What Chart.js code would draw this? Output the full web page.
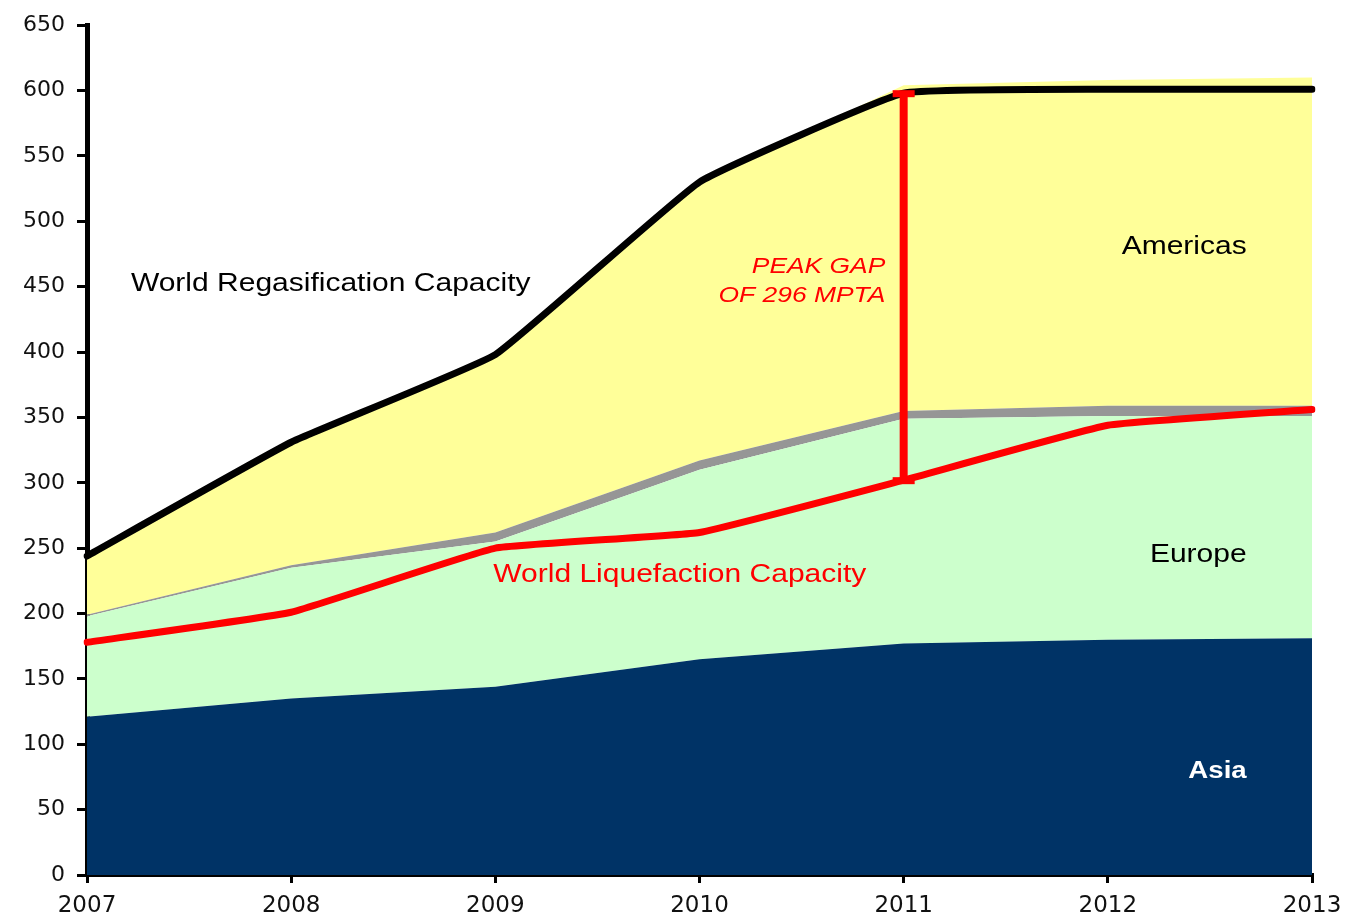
<!DOCTYPE html>
<html>
<head>
<meta charset="utf-8">
<title>World LNG regasification vs liquefaction capacity</title>
<script src="https://cdn.jsdelivr.net/npm/chart.js@4.4.1/dist/chart.umd.min.js"></script>
<style>
  html, body { margin: 0; padding: 0; background: #fff; }
  #wrap { width: 1345px; height: 920px; position: relative; }
</style>
</head>
<body>
<div id="wrap"><canvas id="lngChart"></canvas></div>
<script>
// values (MTPA)
const years = ['2007', '2008', '2009', '2010', '2011', '2012', '2013'];
const asia = [121, 135, 144, 165, 177, 180, 181];
const europe = [77, 100, 111, 145, 172, 171, 170];
const middleEast = [1, 2, 7, 7, 6, 8, 8];
const americas = [45, 94, 136, 213, 249, 249, 251];
const regasification = [244, 331, 398, 530, 598, 601, 601];
const liquefaction = [178, 201, 250, 262, 302, 344, 356];
const yMin = 0, yMax = 650, yStep = 50;
const peakYear = '2011';

// text labels placed in data space (x = category index, y = value)
const notes = [
    { text: 'World Regasification Capacity', x: 0.215, y: 452, align: 'left', color: '#000', font: '25px "Liberation Sans"' },
    { text: 'PEAK GAP', x: 3.91, y: 465, align: 'right', color: '#ff0000', font: 'italic 22px "Liberation Sans"' },
    { text: 'OF 296 MPTA', x: 3.91, y: 443, align: 'right', color: '#ff0000', font: 'italic 22px "Liberation Sans"' },
    { text: 'World Liquefaction Capacity', x: 1.99, y: 229, align: 'left', color: '#ff0000', font: '25px "Liberation Sans"' },
    { text: 'Americas', x: 5.68, y: 480, align: 'right', color: '#000', font: '25px "Liberation Sans"' },
    { text: 'Europe', x: 5.68, y: 245, align: 'right', color: '#000', font: '25px "Liberation Sans"' },
    { text: 'Asia', x: 5.68, y: 79, align: 'right', color: '#fff', font: 'bold 23px "Liberation Sans"' }
];

const overlay = {
    id: 'overlay',
    afterDatasetsDraw(chart) {
        const { ctx, scales: { x, y } } = chart;
        const i = years.indexOf(peakYear);
        const px = x.getPixelForValue(i);
        const top = y.getPixelForValue(regasification[i]);
        const bot = y.getPixelForValue(liquefaction[i]);
        ctx.save();
        // peak gap marker
        ctx.strokeStyle = '#ff0000';
        ctx.lineWidth = 8;
        ctx.beginPath();
        ctx.moveTo(px, top);
        ctx.lineTo(px, bot);
        ctx.stroke();
        ctx.fillStyle = '#ff0000';
        ctx.fillRect(px - 11, top - 3, 22, 7);
        ctx.fillRect(px - 11, bot - 3, 22, 7);

        // labels (source image is stretched sideways a bit)
        notes.forEach(n => {
            ctx.save();
            ctx.translate(x.getPixelForValue(n.x), y.getPixelForValue(n.y));
            ctx.scale(1.2, 1);
            ctx.font = n.font;
            ctx.fillStyle = n.color;
            ctx.textAlign = n.align;
            ctx.textBaseline = 'middle';
            ctx.fillText(n.text, 0, 0);
            ctx.restore();
        });
        ctx.restore();
    }
};

Chart.defaults.font.family = '"DejaVu Sans"';
Chart.defaults.color = '#111';

// areas drawn underneath (higher order), lines on top
const areaStyle = { stack: 'areas', order: 2, pointRadius: 0, borderWidth: 0, tension: 0 };
const lineStyle = { fill: false, order: 1, pointRadius: 0, borderWidth: 7, tension: 0.1, borderCapStyle: 'round' };

new Chart(document.getElementById('lngChart'), {
    type: 'line',
    data: {
        labels: years,
        datasets: [
            { ...areaStyle, label: 'Asia', data: asia, backgroundColor: '#003366', borderColor: '#003366', fill: 'origin' },
            { ...areaStyle, label: 'Europe', data: europe, backgroundColor: '#ccffcc', borderColor: '#ccffcc', fill: '-1' },
            { ...areaStyle, label: 'Middle East', data: middleEast, backgroundColor: '#969696', borderColor: '#969696', fill: '-1' },
            { ...areaStyle, label: 'Americas', data: americas, backgroundColor: '#ffff99', borderColor: '#ffff99', fill: '-1' },
            { ...lineStyle, label: 'World Regasification Capacity', data: regasification, stack: 'regas', borderColor: '#000000' },
            { ...lineStyle, label: 'World Liquefaction Capacity', data: liquefaction, stack: 'liq', borderColor: '#ff0000' }
        ]
    },
    options: {
        responsive: true,
        maintainAspectRatio: false,
        animation: false,
        layout: { padding: { top: 22, right: 33, left: 0, bottom: 0 } },
        plugins: {
            legend: { display: false },
            tooltip: { enabled: false }
        },
        scales: {
            x: {
                offset: false,
                grid: { display: true, drawOnChartArea: false, drawTicks: true, tickLength: 8, color: '#000', lineWidth: 3 },
                border: { display: true, color: '#000', width: 4 },
                ticks: { font: { size: 23 }, padding: 9, maxRotation: 0, autoSkip: false },
                afterFit: scale => {
                    scale.height = 45;
                    scale.paddingRight = 0;
                    scale.paddingLeft = 0;
                }
            },
            y: {
                stacked: true,
                min: yMin,
                max: yMax,
                grid: { display: true, drawOnChartArea: false, drawTicks: true, tickLength: 10, color: '#000', lineWidth: 3 },
                border: { display: true, color: '#000', width: 5 },
                ticks: { stepSize: yStep, font: { size: 22 }, padding: 12 },
                afterFit: scale => { scale.width = 87; }
            }
        }
    },
    plugins: [overlay]
});
</script>
</body>
</html>
